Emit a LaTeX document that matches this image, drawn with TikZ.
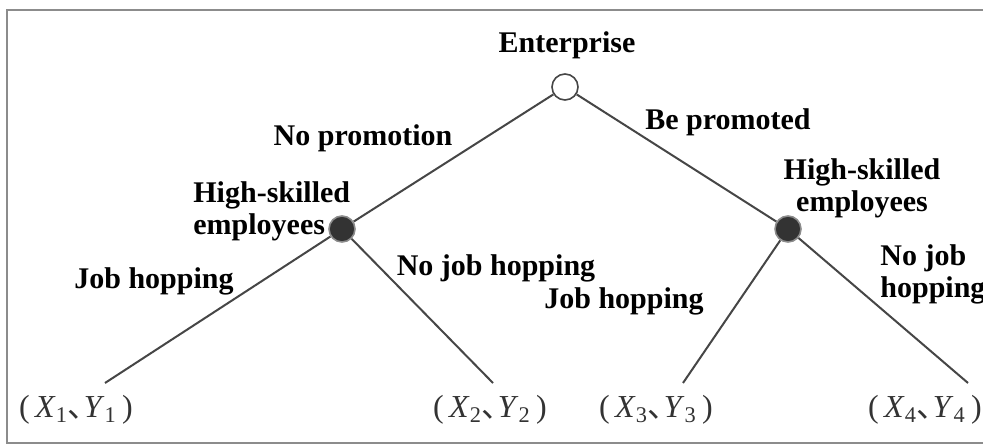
\documentclass[tikz,border=0pt]{standalone}
\usepackage{fontspec}
\setmainfont{Liberation Serif}
\newfontfamily\cjk{Noto Sans CJK SC}
\usepackage{tikz}
\usetikzlibrary{arrows}
\usepackage{color}

\definecolor{framegray}{RGB}{140,140,140}
\definecolor{linegray}{RGB}{70,70,70}
\newcommand{\payoff}[1]{(\,\textit{X}\textsubscript{#1}\makebox[0.5em][l]{\cjk 、}\textit{Y}\textsubscript{#1}\,)}

\tikzset{
  lab/.style={font=\bfseries\fontsize{15}{16}\selectfont, inner sep=0pt},
  leaf/.style={font=\fontsize{16}{17}\selectfont, inner sep=0pt, text=black!80},
  opennode/.style={circle, draw=linegray, fill=white, line width=0.8pt, minimum size=13pt, inner sep=0pt},
  darknode/.style={circle, draw=framegray, fill=black!80, line width=0.8pt, minimum size=13pt, inner sep=0pt},
  branch/.style={draw=linegray, line width=1pt}
}

\begin{document}
\begin{tikzpicture}[x=0.5pt,y=-0.5pt]
		\useasboundingbox (0,0) rectangle (983,448);
		\draw[framegray, line width=1pt] (995,10) -- (7,10) -- (7,443) -- (995,443); % outer frame
		% decision nodes
		\node[opennode] (ent) at (565,87) {};
		\node[darknode] (hsl) at (342,229) {};
		\node[darknode] (hsr) at (788,229) {};
		% end points of the branches
		\coordinate (e1) at (105,383);
		\coordinate (e2) at (493,383);
		\coordinate (e3) at (683,383);
		\coordinate (e4) at (968,383);
		\draw[branch] (ent) -- (hsl);
		\draw[branch] (ent) -- (hsr);
		\draw[branch] (hsl) -- (e1);
		\draw[branch] (hsl) -- (e2);
		\draw[branch] (hsr) -- (e3);
		\draw[branch] (hsr) -- (e4);
		% labels
		\node[lab] (tent) at (567,45) {Enterprise};
		\node[lab] (tnp) at (363,138) {No promotion};
		\node[lab] (tbp) at (728,122) {Be promoted};
		\node[lab, align=left, anchor=west] (thsl) at (193,211) {High-skilled\\employees};
		\node[lab, align=center] (thsr) at (862,188) {High-skilled\\employees};
		\node[lab] (tjl) at (154,281) {Job hopping};
		\node[lab] (tnjl) at (496,268) {No job hopping};
		\node[lab] (tjr) at (624,301) {Job hopping};
		\node[lab, align=left, anchor=west] (tnjr) at (880,274) {No job\\hopping};
		% payoffs
		\node[leaf] (p1) at (76,410) {\payoff{1}};
		\node[leaf] (p2) at (490,410) {\payoff{2}};
		\node[leaf] (p3) at (656,410) {\payoff{3}};
		\node[leaf] (p4) at (925,410) {\payoff{4}};
		\end{tikzpicture}
\end{document}
